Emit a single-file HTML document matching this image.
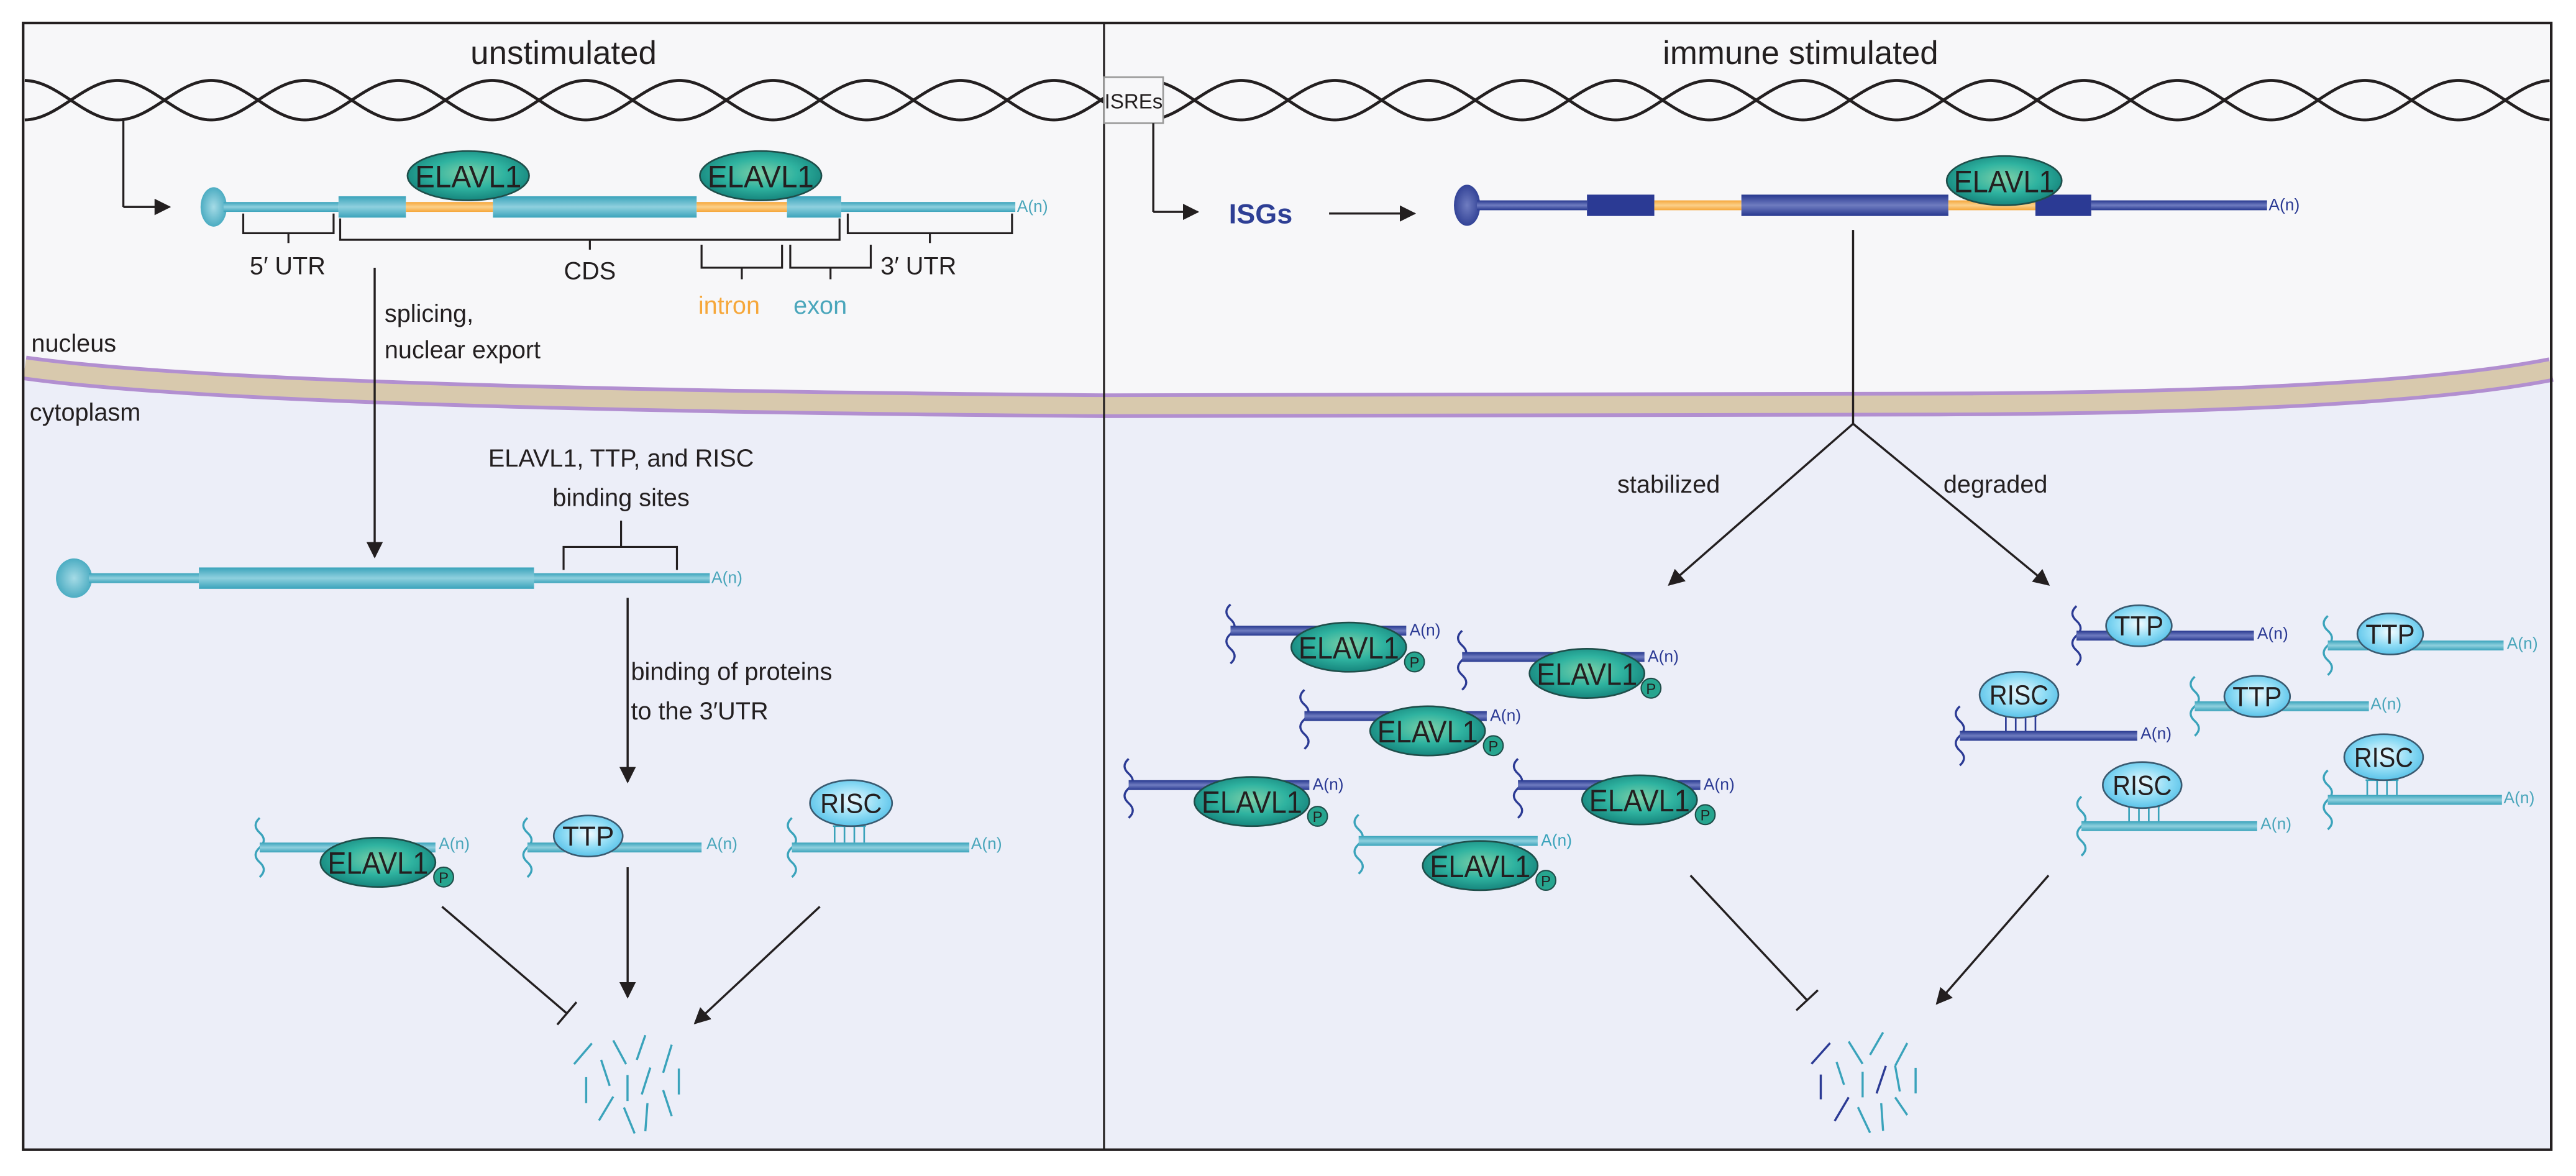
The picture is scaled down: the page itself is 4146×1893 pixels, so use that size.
<!DOCTYPE html>
<html><head><meta charset="utf-8">
<style>
html,body{margin:0;padding:0;background:#fff;}
svg{display:block;}
text{font-family:"Liberation Sans",sans-serif;fill:#231f20;}
</style></head>
<body>
<svg id="s" width="4146" height="1893" viewBox="0 0 1568 716" xmlns="http://www.w3.org/2000/svg">
<defs>
<linearGradient id="gTeal" x1="0" y1="0" x2="0" y2="1"><stop offset="0" stop-color="#3aa3bb"/><stop offset="0.5" stop-color="#8fd0de"/><stop offset="1" stop-color="#3aa3bb"/></linearGradient>
<linearGradient id="gBlue" x1="0" y1="0" x2="0" y2="1"><stop offset="0" stop-color="#27388f"/><stop offset="0.5" stop-color="#6f7cc0"/><stop offset="1" stop-color="#27388f"/></linearGradient>
<linearGradient id="gOr" x1="0" y1="0" x2="0" y2="1"><stop offset="0" stop-color="#f6a73a"/><stop offset="0.5" stop-color="#fbd08a"/><stop offset="1" stop-color="#f6a73a"/></linearGradient>
<radialGradient id="gEl" cx="0.5" cy="0.45" r="0.6"><stop offset="0" stop-color="#7fd0a8"/><stop offset="0.5" stop-color="#2fb3a0"/><stop offset="1" stop-color="#117c76"/></radialGradient>
<radialGradient id="gLb" cx="0.5" cy="0.45" r="0.6"><stop offset="0" stop-color="#f2fbff"/><stop offset="0.55" stop-color="#8fdcf5"/><stop offset="1" stop-color="#4fbde6"/></radialGradient>
<radialGradient id="gCapT" cx="0.5" cy="0.5" r="0.6"><stop offset="0" stop-color="#a5dbe6"/><stop offset="1" stop-color="#3aa3bb"/></radialGradient>
<radialGradient id="gCapB" cx="0.5" cy="0.5" r="0.6"><stop offset="0" stop-color="#6f7cc0"/><stop offset="1" stop-color="#27388f"/></radialGradient>
<marker id="ah" viewBox="0 0 10 10" refX="9" refY="5" markerWidth="10" markerHeight="10" markerUnits="userSpaceOnUse" orient="auto"><path d="M0,0 L10,5 L0,10 Z" fill="#231f20"/></marker>
</defs>
<g id="root"></g>
</svg>
<script>
var out=[];
function A(s){out.push(s);}
A('<rect x="14" y="14" width="1539" height="686" fill="#eceef8"/>');
var mem='M15,224 Q150,243 672,247 L1180,246 Q1450,245 1553,225';
A('<path d="M14,14 H1553 V225 Q1450,245 1180,246 L672,247 Q150,243 15,224 Z" fill="#f7f7f9"/>');
A('<path d="'+mem+'" fill="none" stroke="#b28fd0" stroke-width="15"/>');
A('<path d="'+mem+'" fill="none" stroke="#d8c9ad" stroke-width="10.5"/>');
A('<rect x="14" y="14" width="1539" height="686" fill="none" stroke="#231f20" stroke-width="1.6"/>');
A('<line x1="672" y1="14" x2="672" y2="700" stroke="#231f20" stroke-width="1.2"/>');
A('<text x="343" y="39" font-size="20" text-anchor="middle">unstimulated</text>');
A('<text x="1096" y="39" font-size="20" text-anchor="middle">immune stimulated</text>');
function helix(x0,x1){
 var d1='',d2='';
 for(var x=x0;x<=x1;x+=1){var v=12*Math.sin(Math.PI*(x-43)/57);
  d1+=(x==x0?'M':'L')+x+','+(61+v).toFixed(2);d2+=(x==x0?'M':'L')+x+','+(61-v).toFixed(2);}
 A('<path d="'+d1+'" fill="none" stroke="#231f20" stroke-width="1.8"/>');
 A('<path d="'+d2+'" fill="none" stroke="#231f20" stroke-width="1.8"/>');
}
helix(15,672);helix(672,1552);
A('<rect x="672" y="47" width="36" height="28" fill="#f7f7f9" stroke="#999" stroke-width="1"/>');
A('<text x="690" y="66" font-size="12.5" text-anchor="middle">ISREs</text>');
function line(x1,y1,x2,y2,arrow){A('<line x1="'+x1+'" y1="'+y1+'" x2="'+x2+'" y2="'+y2+'" stroke="#231f20" stroke-width="1.3"'+(arrow?' marker-end="url(#ah)"':'')+'/>');}
function tbar(x1,y1,x2,y2){line(x1,y1,x2,y2);var dx=x2-x1,dy=y2-y1,L=Math.hypot(dx,dy),nx=-dy/L*9,ny=dx/L*9;line(x2+nx,y2+ny,x2-nx,y2-ny);}
function rect(x1,x2,y,h,fill){A('<rect x="'+x1+'" y="'+(y-h/2)+'" width="'+(x2-x1)+'" height="'+h+'" fill="'+fill+'"/>');}
function an(x,y,c){A('<text x="'+x+'" y="'+(y+3)+'" font-size="10" fill="'+c+'" style="fill:'+c+'">A(n)</text>');}
function squig(x,y,c){A('<path d="M'+x+','+(y-18)+' q-5,4.5 0,9 q5,4.5 0,9 q-5,4.5 0,9 q5,4.5 0,9" fill="none" stroke="'+c+'" stroke-width="1.3"/>');}
function elavl(cx,cy,rx,ry,p){A('<ellipse cx="'+cx+'" cy="'+cy+'" rx="'+rx+'" ry="'+ry+'" fill="url(#gEl)" stroke="#1f4e4a" stroke-width="1"/>');
 A('<text x="'+cx+'" y="'+(cy+7)+'" font-size="19" text-anchor="middle" textLength="'+(rx*1.75)+'" lengthAdjust="spacingAndGlyphs">ELAVL1</text>');
 if(p){A('<circle cx="'+p[0]+'" cy="'+p[1]+'" r="6" fill="#27a58f" stroke="#1f4e4a" stroke-width="0.8"/>');A('<text x="'+p[0]+'" y="'+(p[1]+3.5)+'" font-size="9" text-anchor="middle">P</text>');}}
function lb(cx,cy,rx,ry,t){A('<ellipse cx="'+cx+'" cy="'+cy+'" rx="'+rx+'" ry="'+ry+'" fill="url(#gLb)" stroke="#3a5a70" stroke-width="1"/>');
 A('<text x="'+cx+'" y="'+(cy+6)+'" font-size="17" text-anchor="middle" textLength="'+(rx*1.5)+'" lengthAdjust="spacingAndGlyphs">'+t+'</text>');}
function stalks(x,y1,y2,c){for(var i=0;i<4;i++){A('<line x1="'+(x+i*6)+'" y1="'+y1+'" x2="'+(x+i*6)+'" y2="'+y2+'" stroke="'+c+'" stroke-width="1"/>');}A('<line x1="'+(x-1)+'" y1="'+y1+'" x2="'+(x+19)+'" y2="'+y1+'" stroke="'+c+'" stroke-width="1"/>');}
var T='#3aa3bb',B='#2b3a94',TG='url(#gTeal)',BG='url(#gBlue)';
line(75,73,75,126);line(75,126,103,126,true);
A('<ellipse cx="130" cy="126" rx="8" ry="12" fill="url(#gCapT)"/>');
rect(136,206,126,6,TG);rect(206,247,126,13,TG);rect(247,300,126,6,'url(#gOr)');rect(300,424,126,13,TG);rect(424,479,126,6,'url(#gOr)');rect(479,512,126,13,TG);rect(512,618,126,6,TG);
an(619,126,'#4aa6bb');
elavl(285,107,37,15);elavl(463,107,37,15);
function brk(x1,x2,yt,yb,tick){A('<path d="M'+x1+','+yt+' V'+yb+' H'+x2+' V'+yt+' M'+((x1+x2)/2)+','+yb+' V'+(yb+tick)+'" fill="none" stroke="#231f20" stroke-width="1.2"/>');}
brk(148,203,130,142,6);brk(207,511,133,146,6);brk(516,616,130,142,6);brk(427,476,149,163,7);brk(481,530,149,163,7);
A('<text x="175" y="167" font-size="15" text-anchor="middle">5′ UTR</text>');
A('<text x="359" y="170" font-size="15" text-anchor="middle">CDS</text>');
A('<text x="536" y="167" font-size="15">3′ UTR</text>');
A('<text x="425" y="191" font-size="15" fill="#f6a73a" style="fill:#f6a73a">intron</text>');
A('<text x="483" y="191" font-size="15" fill="#4aa6bb" style="fill:#4aa6bb">exon</text>');
line(228,163,228,339,true);
A('<text x="234" y="196" font-size="15">splicing,</text>');
A('<text x="234" y="218" font-size="15">nuclear export</text>');
A('<text x="19" y="214" font-size="15">nucleus</text>');
A('<text x="18" y="256" font-size="15">cytoplasm</text>');
A('<text x="378" y="284" font-size="15" text-anchor="middle">ELAVL1, TTP, and RISC</text>');
A('<text x="378" y="308" font-size="15" text-anchor="middle">binding sites</text>');
A('<ellipse cx="45" cy="352" rx="11" ry="12" fill="url(#gCapT)"/>');
rect(54,121,352,6,TG);rect(121,325,352,13,TG);rect(325,432,352,6,TG);an(433,352,'#4aa6bb');
A('<path d="M343,347 V333 H412 V347 M378,333 V317" fill="none" stroke="#231f20" stroke-width="1.2"/>');
line(382,364,382,476,true);
A('<text x="384" y="414" font-size="15">binding of proteins</text>');
A('<text x="384" y="438" font-size="15">to the 3′UTR</text>');
squig(158,516,T);rect(158,265,516,6,TG);an(267,514,'#4aa6bb');elavl(230,525,35,15,[270,534]);
squig(321,516,T);rect(321,427,516,6,TG);an(430,514,'#4aa6bb');lb(358,509,21,12.5,'TTP');
squig(482,516,T);rect(482,590,516,6,TG);stalks(508,503,513,T);lb(518,489,25,14,'RISC');an(591,514,'#4aa6bb');
tbar(269,552,345,617);line(382,528,382,607,true);line(499,552,423,623,true);
function frag(list,ox,oy,kx,ky){list.forEach(function(f){A('<line x1="'+(ox+f[0]*kx)+'" y1="'+(oy+f[1]*ky)+'" x2="'+(ox+f[2]*kx)+'" y2="'+(oy+f[3]*ky)+'" stroke="'+(f[4]||T)+'" stroke-width="1.3"/>');});}
frag([[805,1310,830,1262],[843,1300,855,1360],[860,1255,878,1310],[893,1300,905,1243],[930,1330,942,1265],[822,1340,822,1400],[880,1335,880,1395],[900,1380,912,1318],[952,1320,952,1380],[840,1440,860,1385],[875,1410,890,1470],[905,1465,908,1400],[930,1370,942,1430]],0,302.6,0.434,0.2636);
line(702,75,702,129);line(702,129,729,129,true);
A('<text x="748" y="136" font-size="17" font-weight="bold" fill="#2e3f95" style="fill:#2e3f95">ISGs</text>');
line(809,130,861,130,true);
A('<ellipse cx="893" cy="125" rx="8" ry="12.5" fill="url(#gCapB)"/>');
rect(899,966,125,6,BG);rect(966,1007,125,13,B);rect(1007,1060,125,6,'url(#gOr)');rect(1060,1186,125,13,BG);rect(1186,1240,125,6,'url(#gOr)');rect(1239,1273,125,13,B);rect(1273,1380,125,6,BG);
an(1381,125,B);elavl(1220,110,35,15);
line(1128,140,1128,258);line(1128,258,1016,356,true);line(1128,258,1247,356,true);
A('<text x="1047" y="300" font-size="15" text-anchor="end">stabilized</text>');
A('<text x="1183" y="300" font-size="15">degraded</text>');
[[749,856,384,821,394,861,403,BG,B],[890,1001,400,966,410,1005,419,BG,B],[794,905,436,869,445,909,454,BG,B],[687,797,478,762,488,802,497,BG,B],[924,1035,478,998,487,1038,496,BG,B],[827,936,512,901,527,941,536,TG,T]].forEach(function(g){
 squig(g[0],g[2]+2,g[8]);rect(g[0],g[1],g[2],6,g[7]);an(g[1]+2,g[2],g[8]);elavl(g[3],g[4],35,15,[g[5],g[6]]);});
squig(1264,387,B);rect(1264,1372,387,6,BG);an(1374,386,B);lb(1302,381,20,12.5,'TTP');
squig(1417,393,T);rect(1417,1524,393,6,TG);an(1526,392,'#4aa6bb');lb(1455,386,20,12.5,'TTP');
squig(1193,448,B);rect(1193,1301,448,6,BG);stalks(1221,436,445,B);lb(1229,423,24,14,'RISC');an(1303,447,B);
squig(1336,430,T);rect(1336,1442,430,6,TG);an(1443,429,'#4aa6bb');lb(1374,424,20,12.5,'TTP');
squig(1417,487,T);rect(1417,1523,487,6,TG);stalks(1441,475,484,T);lb(1451,461,24,14,'RISC');an(1524,486,'#4aa6bb');
squig(1267,503,T);rect(1267,1374,503,6,TG);stalks(1296,491,500,T);lb(1304,478,24,14,'RISC');an(1376,502,'#4aa6bb');
tbar(1029,533,1100,609);line(1247,533,1179,611,true);
frag([[745,1285,765,1232,B],[785,1228,800,1285],[808,1262,822,1205],[835,1290,848,1232],[772,1280,780,1338],[755,1312,755,1375,B],[800,1305,800,1370],[815,1360,825,1290,B],[840,1355,835,1290],[857,1295,857,1360],[770,1430,785,1370,B],[795,1395,808,1460],[822,1455,820,1385],[835,1370,848,1415]],681,340,0.566,0.2395);
document.getElementById('root').innerHTML=out.join('');
</script>
</body></html>
